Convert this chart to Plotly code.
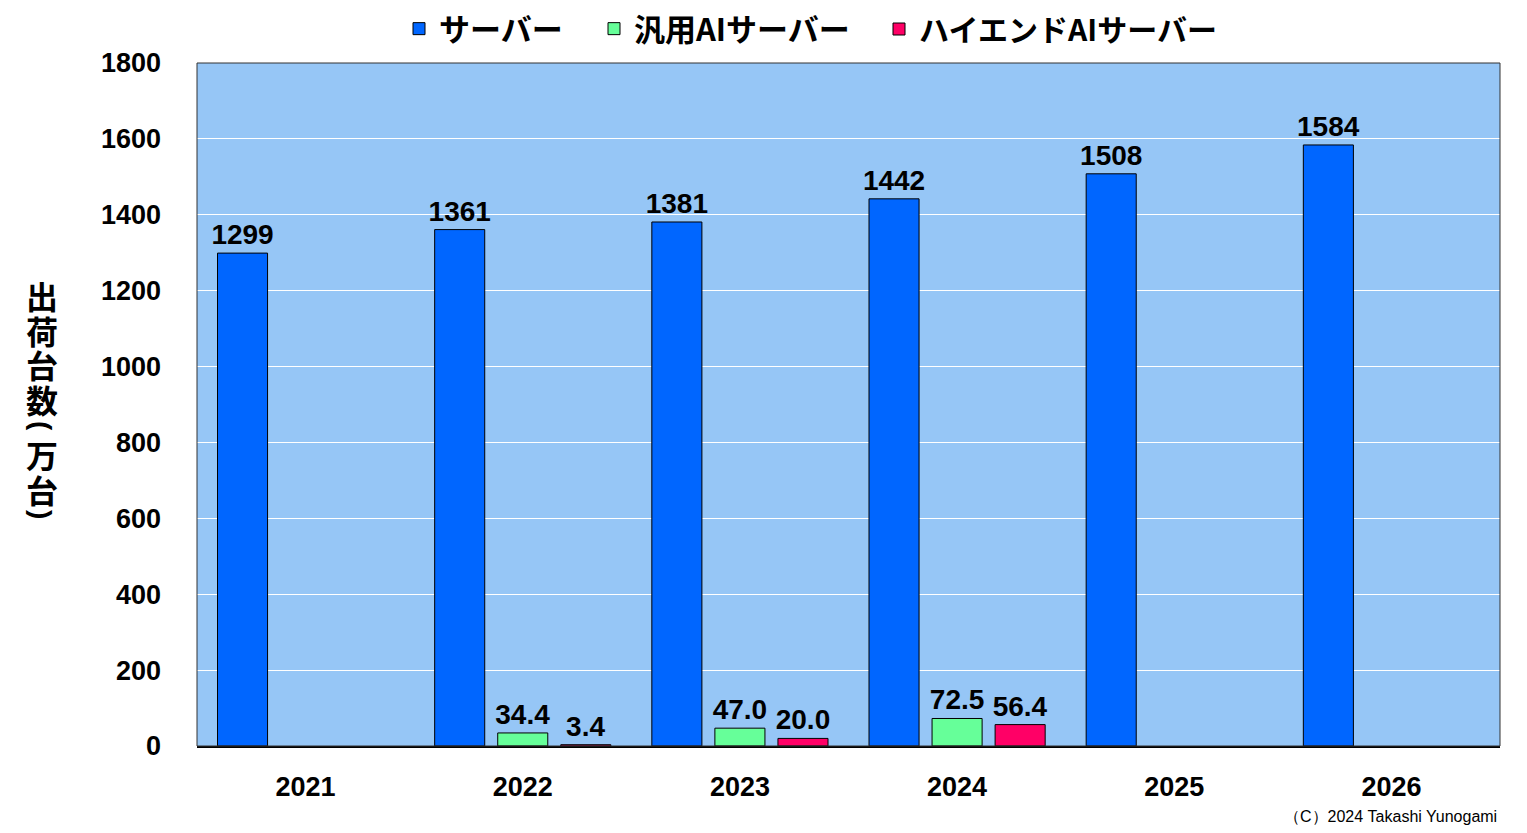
import plotly.graph_objects as go

years = ["2021", "2022", "2023", "2024", "2025", "2026"]
server = [1299, 1361, 1381, 1442, 1508, 1584]
general_ai = [None, 34.4, 47.0, 72.5, None, None]
highend_ai = [None, 3.4, 20.0, 56.4, None, None]
server_labels = ["1299", "1361", "1381", "1442", "1508", "1584"]
general_labels = ["", "34.4", "47.0", "72.5", "", ""]
highend_labels = ["", "3.4", "20.0", "56.4", "", ""]
series_names = ["サーバー", "汎用AIサーバー", "ハイエンドAIサーバー"]
title_chars = ["出", "荷", "台", "数", "(", "万", "台", ")"]

NUM_FONT = "Liberation Sans, Arial, sans-serif"
JP_FONT = "Noto Sans CJK JP, sans-serif"

L, R, T, B = 197, 27, 63, 87
W, H = 1527, 833
PW, PH = W - L - R, H - T - B

def px_x(px):
    return (px - L) / PW

def px_y(py):
    return (H - B - py) / PH

fig = go.Figure()
legend_ids = ["legend", "legend2", "legend3"]
legend_left_px = [399, 594, 879]
legend_sizes = [31, 31, 30]
for name, vals, labels, color, lg in zip(
    series_names,
    [server, general_ai, highend_ai],
    [server_labels, general_labels, highend_labels],
    ["#0066FF", "#66FF99", "#FF0066"],
    legend_ids,
):
    fig.add_trace(go.Bar(
        x=years, y=vals, name=name, text=labels,
        textposition="outside", cliponaxis=False, constraintext="none",
        textfont=dict(family=NUM_FONT, size=28, color="black", weight="bold"),
        marker=dict(color=color, line=dict(color="black", width=1)),
        legend=lg,
    ))

layout_legends = {}
for lg, lpx, fs in zip(legend_ids, legend_left_px, legend_sizes):
    layout_legends[lg] = dict(
        orientation="h", x=px_x(lpx), xanchor="left", y=px_y(29), yanchor="middle",
        font=dict(family=JP_FONT, size=fs, color="black", weight="bold"),
        itemwidth=30, bgcolor="rgba(0,0,0,0)",
    )

fig.update_layout(
    width=W, height=H,
    paper_bgcolor="white", plot_bgcolor="#96C6F6",
    margin=dict(l=L, r=R, t=T, b=B, autoexpand=False),
    barmode="group", bargap=0.129, bargroupgap=0.206,
    showlegend=True,
    **layout_legends,
)
fig.update_xaxes(
    showline=True, linecolor="black", linewidth=1.5, mirror=False,
    tickfont=dict(family=NUM_FONT, size=27, color="black", weight="bold"),
    ticks="", ticklabelstandoff=16,
)
fig.update_yaxes(
    range=[0, 1800], dtick=200, showgrid=True, gridcolor="white", gridwidth=1,
    showline=False, zeroline=False,
    tickfont=dict(family=NUM_FONT, size=27, color="black", weight="bold"),
    ticks="", ticklabelstandoff=35,
)
fig.add_shape(type="rect", xref="paper", yref="paper", x0=0, y0=0, x1=1, y1=1,
              line=dict(color="#333333", width=1), layer="above")

title_y_px = [295, 330, 364, 399, 426, 454, 489, 514]
for ch, ypx in zip(title_chars, title_y_px):
    is_paren = ch in "()"
    fig.add_annotation(
        text=ch, xref="paper", yref="paper", x=px_x(42), y=px_y(ypx),
        xanchor="center", yanchor="middle", showarrow=False,
        textangle=90 if is_paren else 0,
        font=dict(family=JP_FONT if not is_paren else NUM_FONT,
                  size=32 if not is_paren else 28, color="black", weight="bold"),
    )

fig.add_annotation(
    text="（C）2024 Takashi Yunogami", xref="paper", yref="paper",
    x=px_x(1499), y=px_y(816), xanchor="right", yanchor="middle", showarrow=False,
    font=dict(family=NUM_FONT, size=16, color="black"),
)

fig.write_html("out.html", config={"displayModeBar": False},
               post_script="document.body.style.margin='0';document.body.style.padding='0';")
